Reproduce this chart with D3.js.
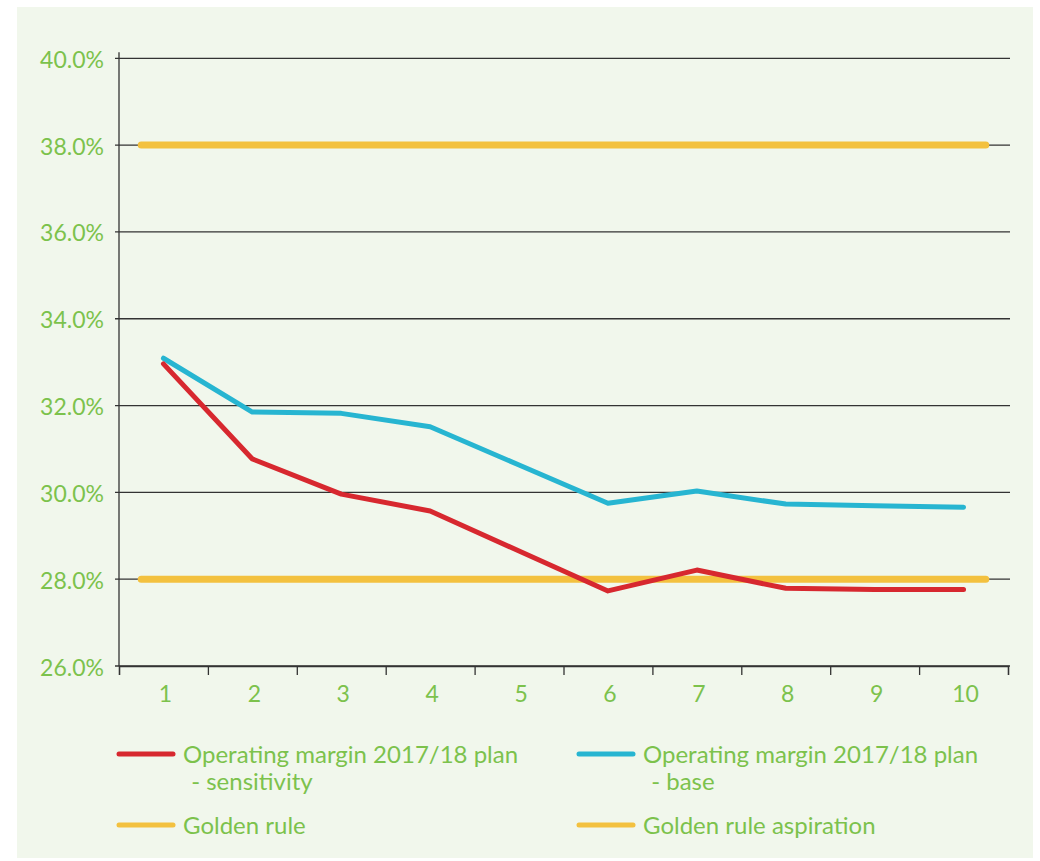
<!DOCTYPE html>
<html>
<head>
<meta charset="utf-8">
<script src="https://cdn.jsdelivr.net/npm/d3@7"></script>
<style>
    body { margin: 0; background: #ffffff; }
    svg text { font-family: Lato, "Open Sans", sans-serif; fill: #7cc24c; }
</style>
</head>
<body>
<svg id="chart"></svg>
<script>
// categories and series values (%)
const years = [1, 2, 3, 4, 5, 6, 7, 8, 9, 10];
const sensitivity = [32.96, 30.77, 29.96, 29.57, 28.65, 27.73, 28.21, 27.79, 27.76, 27.76];
const base = [33.09, 31.85, 31.82, 31.51, 30.63, 29.75, 30.03, 29.73, 29.69, 29.66];
const goldenRule = 28;
const goldenRuleAspiration = 38;
const goldenSpan = [0.75, 10.25];
const yTicks = [26, 28, 30, 32, 34, 36, 38, 40];
const legendItems = [
    { lines: ['Operating margin 2017/18 plan', ' - sensitivity'], color: '#d7282f' },
    { lines: ['Operating margin 2017/18 plan', ' - base'], color: '#27b5d1' },
    { lines: ['Golden rule'], color: '#f3c13f' },
    { lines: ['Golden rule aspiration'], color: '#f3c13f' }
];

const width = 1040, height = 861;
const margin = { top: 58.3, bottom: 195, left: 119, right: 32 };

const svg = d3.select('#chart')
    .attr('width', width)
    .attr('height', height);

// light green panel
svg.append('rect')
    .attr('x', 17).attr('y', 7)
    .attr('width', 1016).attr('height', 851)
    .attr('fill', '#f1f7ec');

const x = d3.scaleLinear()
    .domain([0.5, 10.5])
    .range([margin.left, width - margin.right]);

const y = d3.scaleLinear()
    .domain([26, 40])
    .range([height - margin.bottom, margin.top]);

// gridlines
svg.append('g')
    .selectAll('line')
    .data(yTicks)
    .enter()
    .append('line')
        .attr('x1', margin.left - 4)
        .attr('x2', x(10.5) + 2)
        .attr('y1', d => y(d))
        .attr('y2', d => y(d))
        .attr('stroke', '#333')
        .attr('stroke-width', 1.3);

// y axis line
svg.append('line')
    .attr('x1', margin.left).attr('x2', margin.left)
    .attr('y1', y(40) - 6).attr('y2', y(26))
    .attr('stroke', '#333').attr('stroke-width', 1.3);

// y labels
svg.append('g')
    .selectAll('text')
    .data(yTicks)
    .enter()
    .append('text')
        .attr('x', 104)
        .attr('y', d => y(d) + 9.5)
        .attr('text-anchor', 'end')
        .attr('font-size', '23px')
        .text(d => d.toFixed(1) + '%');

// x axis: tick marks between categories
const xAxis = d3.axisBottom(x)
    .tickValues(d3.range(0.5, 11, 1))
    .tickSize(9)
    .tickFormat('');
const xAxisGroup = svg.append('g')
    .attr('transform', `translate(0, ${y(26)})`)
    .call(xAxis);
xAxisGroup.select('.domain').attr('stroke', '#333').attr('stroke-width', 1.3);
xAxisGroup.selectAll('.tick line').attr('stroke', '#333').attr('stroke-width', 1.3);

svg.append('g')
    .selectAll('text')
    .data(years)
    .enter()
    .append('text')
        .attr('x', d => x(d) + 2)
        .attr('y', y(26) + 36)
        .attr('text-anchor', 'middle')
        .attr('font-size', '23px')
        .text(d => d);

// golden rule lines
[goldenRuleAspiration, goldenRule].forEach(v => {
    svg.append('line')
        .attr('x1', x(goldenSpan[0])).attr('x2', x(goldenSpan[1]))
        .attr('y1', y(v)).attr('y2', y(v))
        .attr('stroke', '#f3c13f')
        .attr('stroke-width', 7)
        .attr('stroke-linecap', 'round');
});

const line = d3.line()
    .x((d, i) => x(years[i]))
    .y(d => y(d));

svg.append('path')
    .datum(base)
    .attr('d', line)
    .attr('fill', 'none')
    .attr('stroke', '#27b5d1')
    .attr('stroke-width', 5)
    .attr('stroke-linecap', 'round')
    .attr('stroke-linejoin', 'round');

svg.append('path')
    .datum(sensitivity)
    .attr('d', line)
    .attr('fill', 'none')
    .attr('stroke', '#d7282f')
    .attr('stroke-width', 5)
    .attr('stroke-linecap', 'round')
    .attr('stroke-linejoin', 'round');

// legend
const legendPos = [[117, 754], [577, 754], [117, 825], [577, 825]];
legendItems.forEach((item, i) => {
    const [lx, ly] = legendPos[i];
    const g = svg.append('g').attr('transform', `translate(${lx}, ${ly})`);
    g.append('line')
        .attr('x1', 2).attr('x2', 56)
        .attr('stroke', item.color)
        .attr('stroke-width', 5)
        .attr('stroke-linecap', 'round');
    item.lines.forEach((t, j) => {
        g.append('text')
            .attr('x', 66 + (j > 0 ? 2 : 0))
            .attr('y', 9 + j * 27)
            .attr('font-size', '24px')
            .attr('xml:space', 'preserve')
            .text(t);
    });
});
</script>
</body>
</html>
